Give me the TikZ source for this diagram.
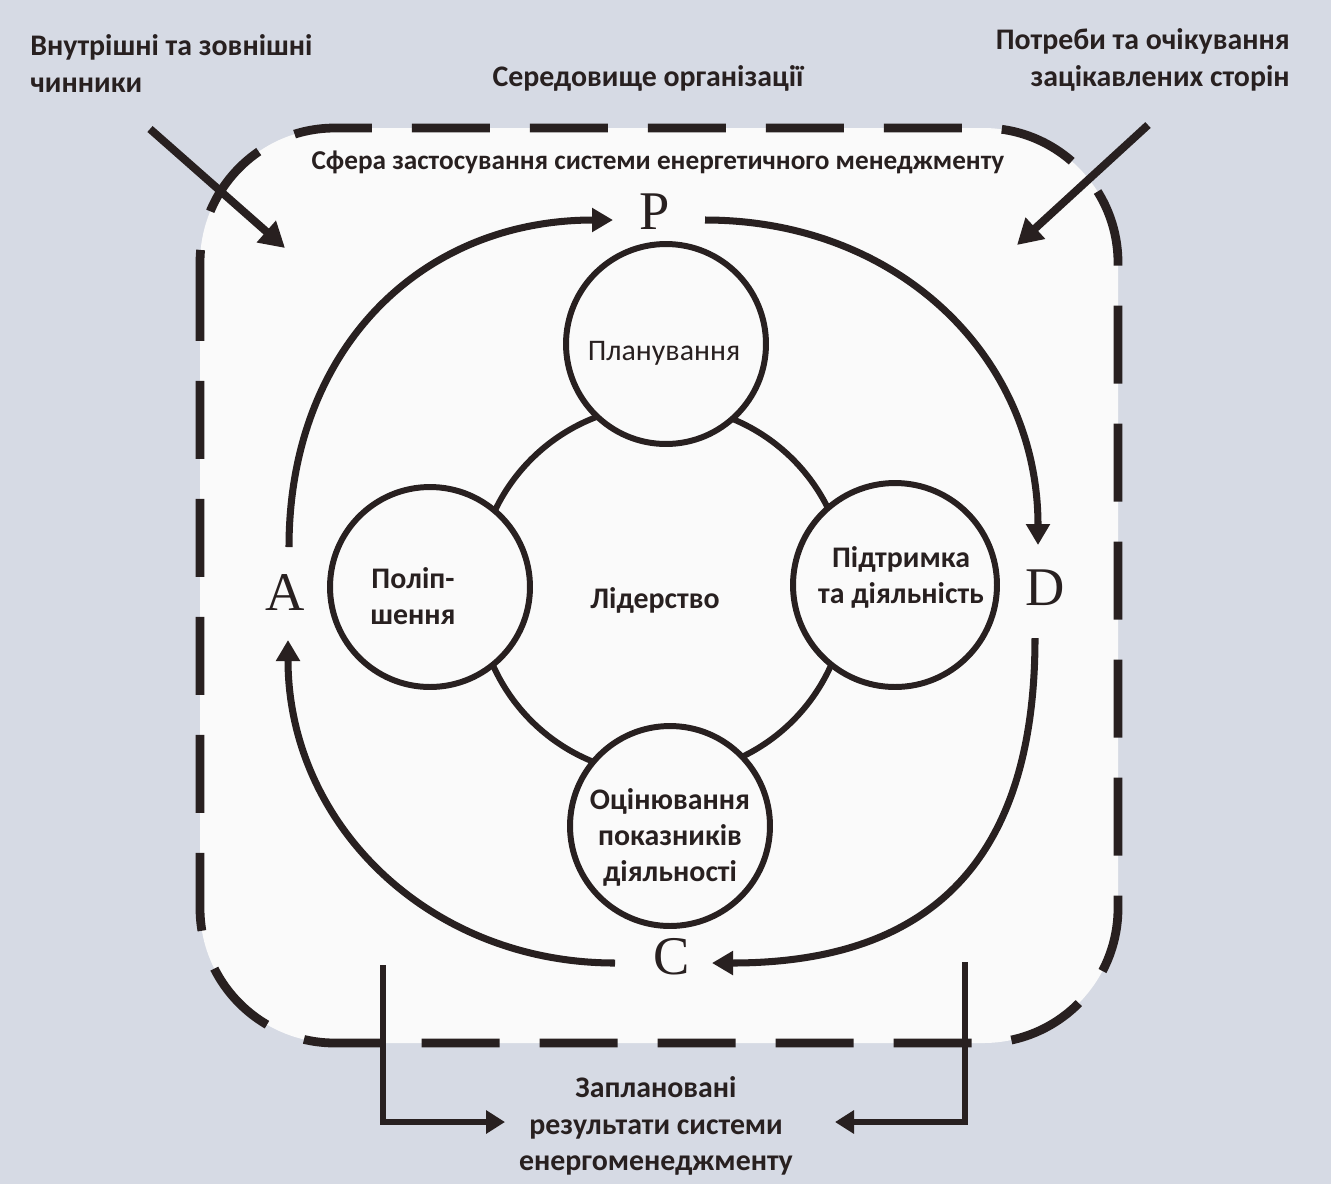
\documentclass[tikz,border=0pt]{standalone}
\usepackage{fontspec}
\setmainfont{Carlito}
\newfontfamily\letterfont{Liberation Serif}
\usetikzlibrary{arrows.meta}
\definecolor{ink}{RGB}{40,32,32}
\definecolor{paper}{RGB}{214,218,228}
\definecolor{sheet}{RGB}{250,250,250}
\tikzstyle{stage}=[circle, draw=ink, line width=3.4pt, fill=sheet, inner sep=0pt]
\tikzstyle{stage text}=[align=center, inner sep=0pt, text=ink, font=\bfseries\fontsize{17}{20.5}\selectfont]
\tikzstyle{letter}=[inner sep=0pt, text=ink, font=\letterfont\fontsize{31}{31}\selectfont]
\tikzstyle{caption}=[inner sep=0pt, text=ink, font=\bfseries\fontsize{17}{21}\selectfont]
\tikzstyle{scope border}=[draw=ink, line width=5pt, dash pattern=on 1.56cm off 0.8cm, rounded corners=2.7cm, fill=sheet]
\tikzstyle{cycle edge}=[draw=ink, line width=4pt, -{Triangle[width=0.46cm,length=0.42cm]}]
\tikzstyle{feed edge}=[draw=ink, line width=4.5pt, -{Triangle[width=0.55cm,length=0.5cm]}]
\tikzstyle{result edge}=[draw=ink, line width=3.5pt, -{Triangle[width=0.45cm,length=0.38cm]}]
\def\stages{{(666,344)/plan/4.0cm/(664,353)/\mdseries Планування}, {(430,587)/improve/4.0cm/(413,596)/Поліп-\\шення}, {(895,585)/support/4.08cm/(901,577)/Підтримка\\та діяльність}, {(670,826)/check/4.0cm/(670,837)/Оцінювання\\показників\\діяльності}}
\def\letters{{(655,212)/P}, {(1045,588)/D}, {(672,957)/C}, {(285,593)/A}}
\def\ends{{(289,547)/A1}, {(613,220)/P0}, {(705,220)/P1}, {(1038,545)/D0}, {(1035,638)/D1}, {(712,963)/C0}, {(615,963)/C1}, {(288,640)/A0}}

\begin{document}
\begin{tikzpicture}[x=0.02cm, y=-0.02cm]

  \fill[paper] (0,0) rectangle (1331,1184);
  \useasboundingbox (0,0) rectangle (1331,1184);

  % scope of the energy management system
  \path[scope border] (200,128) rectangle (1118,1043);

  \node[caption, align=left, anchor=north west] (factors) at (30,34) {Внутрішні та зовнішні\\чинники};
  \node[caption, align=right, anchor=north east] (needs) at (1290,28) {Потреби та очікування\\зацікавлених сторін};
  \node[caption] (context) at (648,78) {Середовище організації};
  \node[caption, font=\bfseries\fontsize{15.5}{18}\selectfont] (scope) at (658,162) {Сфера застосування системи енергетичного менеджменту};

  \node[stage, minimum size=7.4cm] (lead) at (662,590) {};
  \node[stage text] (lead-text) at (655,600) {Лідерство};
  \foreach \pos/\name/\size/\tpos/\txt in \stages {
    \node[stage, minimum size=\size] (\name) at \pos {};
    \node[stage text] (\name-text) at \tpos {\txt};
    }

  \foreach \pos/\name in \letters {
    \node[letter] (\name) at \pos {\name};
    }

  \foreach \pos/\name in \ends {
    \path \pos coordinate (\name);
    }

  % PDCA cycle
  \path[cycle edge] (A1) .. controls (289,350) and (420,220) .. (P0);
  \path[cycle edge] (P1) .. controls (898,220) and (1038,357) .. (D0);
  \path[cycle edge] (D1) .. controls (1035,859) and (932,963) .. (C0);
  \path[cycle edge] (C1) .. controls (429,963) and (288,824) .. (A0);

  % inputs
  \coordinate (factors-out) at (150,129);
  \coordinate (factors-in) at (285,248);
  \coordinate (needs-out) at (1148,125);
  \coordinate (needs-in) at (1017,245);
  \path[feed edge] (factors-out) -- (factors-in);
  \path[feed edge] (needs-out) -- (needs-in);

  % outputs
  \node[caption, align=center] (result) at (656,1126) {Заплановані\\результати системи\\енергоменеджменту};
  \coordinate (outL) at (383,965);
  \coordinate (outR) at (965,962);
  \coordinate (resL) at (505,1122);
  \coordinate (resR) at (835,1122);
  \path[result edge] (outL) |- (resL);
  \path[result edge] (outR) |- (resR);

\end{tikzpicture}
\end{document}
